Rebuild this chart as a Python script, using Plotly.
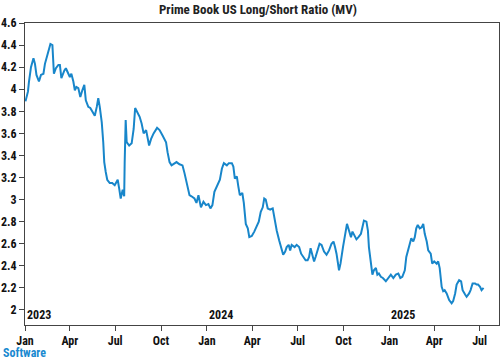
import plotly.graph_objects as go

dates = [
"2023-01-02","2023-01-04","2023-01-07","2023-01-09","2023-01-13","2023-01-18","2023-01-21","2023-01-24","2023-01-29",
"2023-02-02","2023-02-07","2023-02-10","2023-02-13","2023-02-17","2023-02-21","2023-02-25","2023-02-28",
"2023-03-04","2023-03-09","2023-03-12","2023-03-15","2023-03-21","2023-03-24","2023-03-29",
"2023-04-01","2023-04-04","2023-04-08","2023-04-11","2023-04-14","2023-04-18","2023-04-22","2023-04-26","2023-04-30",
"2023-05-03","2023-05-08","2023-05-12","2023-05-18","2023-05-21","2023-05-25","2023-05-28","2023-05-31",
"2023-06-04","2023-06-07","2023-06-09","2023-06-12","2023-06-15","2023-06-20","2023-06-25","2023-06-30",
"2023-07-06","2023-07-09","2023-07-12","2023-07-16","2023-07-19","2023-07-20","2023-07-22","2023-07-24","2023-07-29",
"2023-08-03","2023-08-07","2023-08-10","2023-08-15","2023-08-19","2023-08-23","2023-08-27",
"2023-09-01","2023-09-04","2023-09-07","2023-09-11","2023-09-16","2023-09-23","2023-09-28",
"2023-10-04","2023-10-11","2023-10-14","2023-10-18","2023-10-22","2023-10-28",
"2023-11-01","2023-11-07","2023-11-13","2023-11-17","2023-11-20","2023-11-23","2023-11-27",
"2023-12-01","2023-12-07","2023-12-11","2023-12-15","2023-12-20","2023-12-25","2023-12-30",
"2024-01-04","2024-01-08","2024-01-12","2024-01-16","2024-01-19","2024-01-24","2024-01-27","2024-01-31",
"2024-02-04","2024-02-10","2024-02-14","2024-02-20","2024-02-23","2024-02-26",
"2024-03-01","2024-03-04","2024-03-07","2024-03-12","2024-03-15","2024-03-19","2024-03-23","2024-03-26","2024-03-31",
"2024-04-05","2024-04-10","2024-04-14","2024-04-18","2024-04-22","2024-04-25","2024-04-28",
"2024-05-02","2024-05-07","2024-05-12","2024-05-15","2024-05-20","2024-05-25","2024-05-30",
"2024-06-02","2024-06-06","2024-06-09","2024-06-13","2024-06-16","2024-06-19","2024-06-25","2024-06-29",
"2024-07-04","2024-07-08","2024-07-13","2024-07-17","2024-07-21","2024-07-24","2024-07-27","2024-07-31",
"2024-08-03","2024-08-06","2024-08-10","2024-08-14","2024-08-18","2024-08-23","2024-08-28",
"2024-09-02","2024-09-07","2024-09-11","2024-09-14","2024-09-17","2024-09-22","2024-09-25","2024-09-30",
"2024-10-04","2024-10-08","2024-10-12","2024-10-16","2024-10-19","2024-10-22","2024-10-27","2024-10-31",
"2024-11-05","2024-11-08","2024-11-11","2024-11-16","2024-11-19","2024-11-21","2024-11-25","2024-11-28",
"2024-12-01","2024-12-05","2024-12-08","2024-12-11","2024-12-15","2024-12-19","2024-12-25","2024-12-30",
"2025-01-04","2025-01-09","2025-01-14","2025-01-19","2025-01-23","2025-01-27",
"2025-02-01","2025-02-04","2025-02-08","2025-02-11","2025-02-14","2025-02-18","2025-02-21","2025-02-24","2025-02-27",
"2025-03-03","2025-03-07","2025-03-10","2025-03-13","2025-03-17","2025-03-20","2025-03-25","2025-03-28",
"2025-04-01","2025-04-06","2025-04-09","2025-04-12","2025-04-16","2025-04-19","2025-04-22","2025-04-26",
"2025-05-01","2025-05-06","2025-05-09","2025-05-13","2025-05-16","2025-05-21","2025-05-25","2025-05-28",
"2025-06-02","2025-06-05","2025-06-10","2025-06-13","2025-06-17","2025-06-22","2025-06-25","2025-06-28",
"2025-07-02","2025-07-05","2025-07-09",
]

ratio = [
3.89,3.92,3.98,4.07,4.20,4.28,4.23,4.13,4.07,
4.13,4.14,4.23,4.28,4.35,4.41,4.40,4.14,
4.19,4.22,4.22,4.10,4.17,4.19,4.14,
4.11,4.14,4.07,3.99,4.02,4.01,3.93,3.99,4.04,
3.90,3.84,3.83,3.79,3.76,3.84,3.92,3.84,
3.70,3.52,3.34,3.25,3.18,3.15,3.15,3.13,
3.18,3.10,3.01,3.09,3.03,3.34,3.72,3.52,3.49,
3.51,3.64,3.83,3.79,3.75,3.69,3.60,
3.63,3.57,3.49,3.55,3.60,3.65,3.63,
3.58,3.52,3.43,3.34,3.31,3.33,
3.34,3.32,3.31,3.24,3.18,3.13,3.04,
3.03,3.01,2.97,3.04,2.93,2.98,2.95,
2.96,2.92,2.95,3.07,3.10,3.15,3.18,3.28,
3.33,3.31,3.33,3.33,3.30,3.19,
3.21,3.12,3.04,3.06,2.97,2.78,2.74,2.66,2.67,
2.71,2.77,2.80,2.89,2.93,3.01,3.00,
2.92,2.91,2.92,2.84,2.72,2.63,2.54,
2.50,2.53,2.57,2.59,2.54,2.59,2.57,2.59,
2.57,2.51,2.47,2.45,2.45,2.48,2.56,2.48,
2.44,2.48,2.53,2.60,2.59,2.53,2.50,
2.54,2.60,2.62,2.57,2.51,2.36,2.42,2.57,
2.68,2.78,2.72,2.66,2.71,2.68,2.64,2.66,
2.69,2.75,2.81,2.80,2.72,2.57,2.39,2.32,
2.36,2.38,2.32,2.33,2.30,2.29,2.26,2.29,
2.32,2.29,2.32,2.33,2.29,2.30,
2.36,2.48,2.56,2.60,2.65,2.62,2.66,2.74,2.77,
2.74,2.75,2.78,2.69,2.62,2.54,2.51,2.42,
2.44,2.42,2.44,2.38,2.21,2.17,2.18,2.15,
2.09,2.06,2.08,2.15,2.23,2.27,2.26,2.18,
2.14,2.12,2.15,2.18,2.24,2.24,2.23,2.23,
2.21,2.18,2.20,
]

year_labels = ["2023", "2024", "2025"]
year_starts = ["2023-01-01", "2024-01-01", "2025-01-01"]
y_ticks = [2, 2.2, 2.4, 2.6, 2.8, 3, 3.2, 3.4, 3.6, 3.8, 4, 4.2, 4.4, 4.6]

FONT = "Liberation Sans Narrow, Roboto Condensed, Roboto, sans-serif"
LINE = "#1886ca"
AX = "#444444"

fig = go.Figure()
fig.add_trace(go.Scatter(x=dates, y=ratio, mode="lines",
                         line=dict(color=LINE, width=2), showlegend=False))

for lab, st in zip(year_labels, year_starts):
    fig.add_annotation(x=st, y=0, xref="x", yref="paper", text="<b>%s</b>" % lab,
                       showarrow=False, xanchor="left", yanchor="bottom",
                       xshift=0, yshift=1, font=dict(family=FONT, size=12, color="#111"))

fig.add_annotation(x=-0.0485, y=-0.1195, xref="paper", yref="paper", text="<b>Software</b>",
                   showarrow=False, xanchor="left", yanchor="bottom", borderpad=0,
                   font=dict(family=FONT, size=12, color="#1a8ad0"))

fig.update_layout(
    width=500, height=361,
    margin=dict(l=25, r=1, t=23, b=36),
    paper_bgcolor="white", plot_bgcolor="white",
    title=dict(text="<b>Prime Book US Long/Short Ratio (MV)</b>", x=0.516, xanchor="center",
               xref="container", y=0.975, yref="container", yanchor="middle",
               font=dict(family=FONT, size=13, color="#222")),
    font=dict(family=FONT, size=12, color="#111"),
)
fig.update_xaxes(
    range=["2023-01-01", "2025-08-09"], type="date",
    dtick="M3", tick0="2023-01-01", tickformat="<b>%b</b>",
    ticks="outside", ticklen=5, tickcolor=AX,
    showline=True, linecolor=AX, linewidth=1, mirror=True,
    showgrid=False, zeroline=False,
    tickfont=dict(family=FONT, size=12, color="#111"),
)
fig.update_yaxes(
    range=[1.864, 4.6], tickvals=y_ticks,
    ticktext=["<b>%g</b>" % v for v in y_ticks],
    ticks="outside", ticklen=5, tickcolor=AX,
    showline=True, linecolor=AX, linewidth=1, mirror=True,
    showgrid=False, zeroline=False,
    tickfont=dict(family=FONT, size=12, color="#111"),
)

fig.write_html("out.html", config={"displayModeBar": False},
               post_script="document.body.style.margin='0';document.body.style.padding='0';")
